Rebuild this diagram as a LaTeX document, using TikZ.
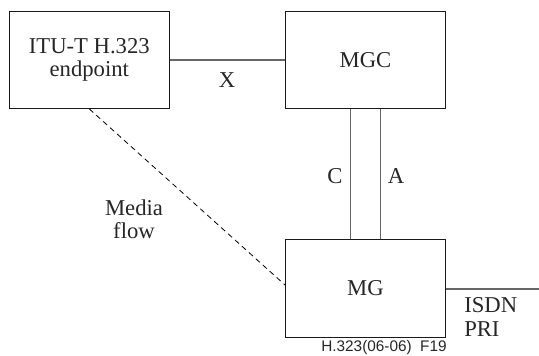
\documentclass[tikz,border=0pt]{standalone}
\usepackage{fontspec}
\setmainfont{Liberation Serif}
\newfontfamily\figsans{Liberation Sans}
\usetikzlibrary{positioning}

\begin{document}
\begin{tikzpicture}[x=0.75pt,y=-0.75pt,
    unit/.style={draw=black!90,line width=0.9pt,inner sep=0pt,minimum width=119.5pt,minimum height=72.5pt,align=center,text=black!85,font=\fontsize{17}{17.5}\selectfont},
    link/.style={draw=black!60,line width=0.8pt},
    tag/.style={align=center,inner sep=0pt,text=black!85,font=\fontsize{17}{17.5}\selectfont}]
  \useasboundingbox (0,0) rectangle (539,356);
  \coordinate (pE) at (89.3,60);
  \coordinate (pC) at (365.5,60);
  \coordinate (pG) at (365.5,288.5);
  \node[unit,minimum width=120pt] (ep) at (pE) {ITU-T H.323\\endpoint};
  \node[unit] (mgc) at (pC) {MGC};
  \node[unit,minimum height=73pt] (mg) at (pG) {MG};
  \coordinate (pri) at (539,289);
  \draw[link] (ep.east) -- (mgc.west);
  \draw[link] ([xshift=-11pt]mgc.south) -- ([xshift=-11pt]mg.north);
  \draw[link] ([xshift=11pt]mgc.south) -- ([xshift=11pt]mg.north);
  \draw[dashed,line width=0.6pt,dash pattern=on 4pt off 3pt] (ep.south) -- ([yshift=2.5pt]mg.west);
  \draw[link] (mg.east |- pri) -- (pri);
  \node[tag] (lx) at (227,80) {X};
  \node[tag] (lc) at (335,176) {C};
  \node[tag] (la) at (396,176) {A};
  \node[tag] (lmf) at (134,219) {Media\\flow};
  \node[tag,align=left,anchor=west] (lisdn) at (464,317) {ISDN\\PRI};
  \node[inner sep=0pt,text=black!85,font=\figsans\fontsize{11.5}{12}\selectfont] (fig) at (384,347.5) {H.323(06-06)~~F19};
\end{tikzpicture}
\end{document}
